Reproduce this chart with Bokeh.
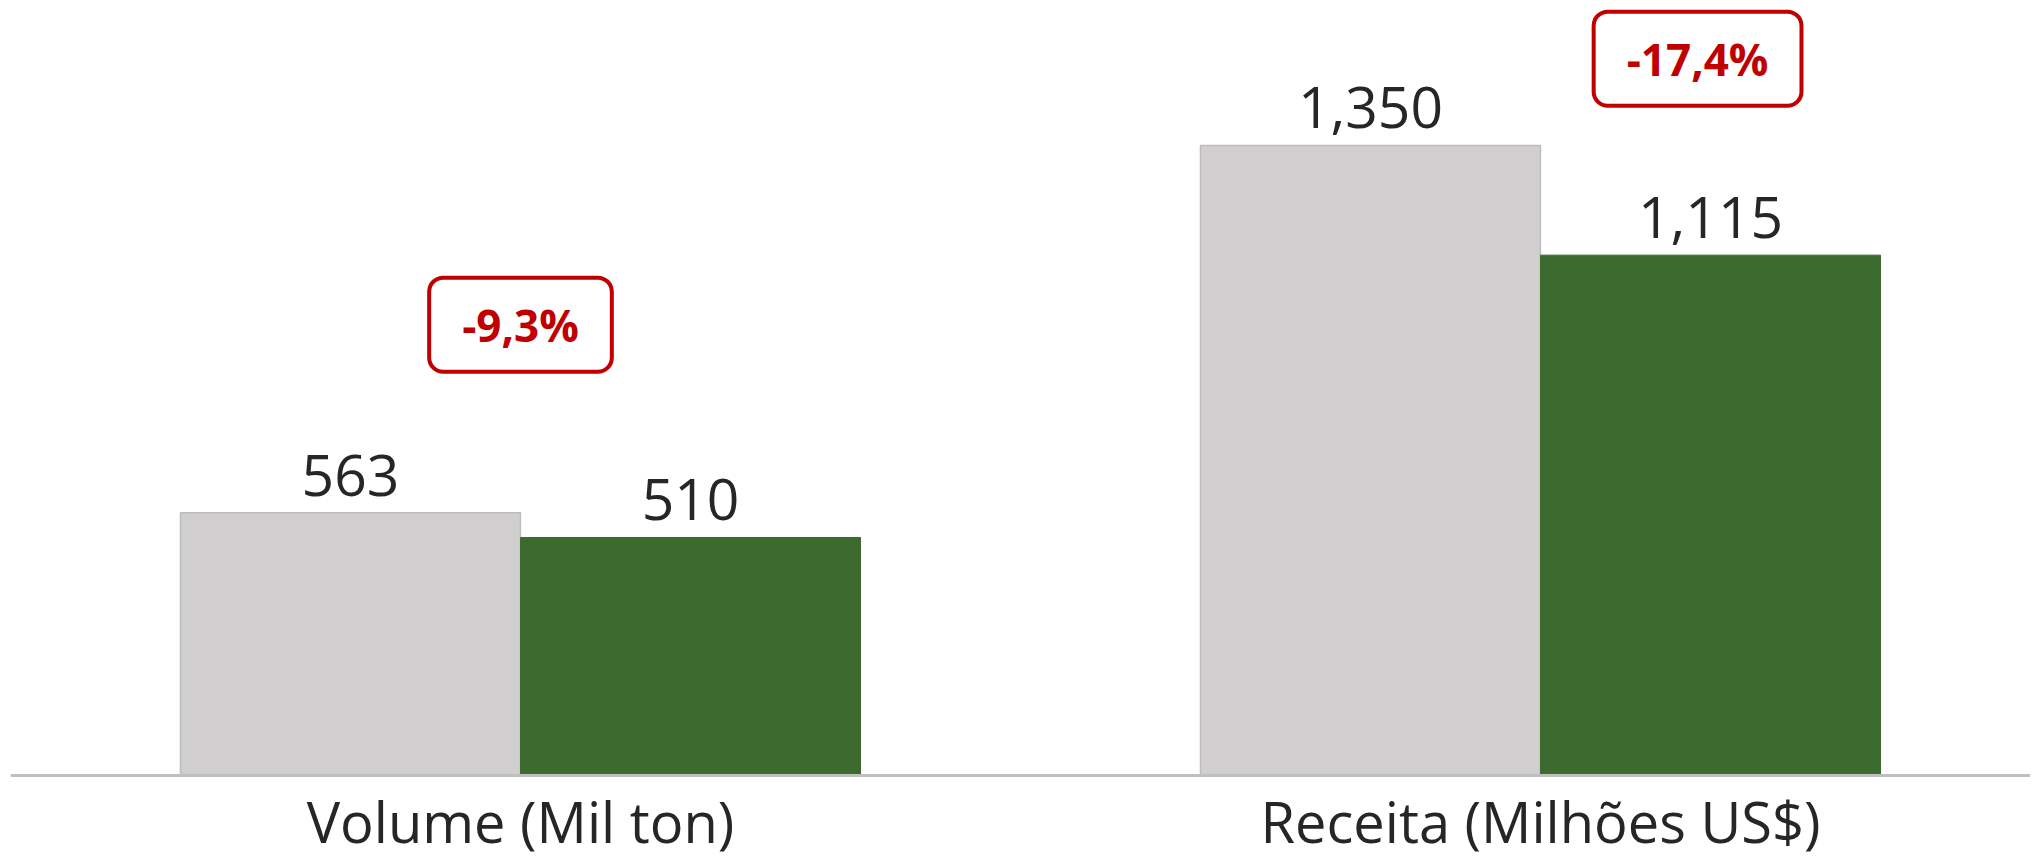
from bokeh.plotting import figure
from bokeh.models import ColumnDataSource, Range1d, LabelSet, Label, Span
from bokeh.transform import dodge
from bokeh.core.properties import value
from bokeh.embed import file_html
from bokeh.resources import INLINE

# ---- data ----
categories = ["Volume (Mil ton)", "Receita (Milhões US$)"]
prev_values = [563, 1350]
curr_values = [510, 1115]
prev_labels = ["563", "1,350"]
curr_labels = ["510", "1,115"]
changes = ["-9,3%", "-17,4%"]

# callout positions (x in category index units, y in data units)
callout_x = [0.0, 1.154]
callout_y = [966, 1536]
# category label position below the baseline (data units)
cat_label_y = -98

GRAY = "#D0CECF"
GREEN = "#3D6A2E"
RED = "#C00000"
TXT = "#262626"
FONT = "Open Sans"

xs = list(range(len(categories)))
src = ColumnDataSource(dict(x=xs, prev=prev_values, curr=curr_values,
                            prev_lbl=prev_labels, curr_lbl=curr_labels,
                            cat=categories, cy=[cat_label_y] * len(categories)))

p = figure(width=2030, height=859,
           x_range=Range1d(-0.5, 1.4804), y_range=Range1d(-180, 1643.5),
           output_backend="svg", toolbar_location=None,
           min_border_left=10, min_border_right=0, min_border_top=8, min_border_bottom=0)

p.vbar(x=dodge("x", -0.1667, range=p.x_range), top="prev", bottom=0, width=0.3333, source=src,
       fill_color=GRAY, line_color="#BDBDBD", line_width=1.5)
p.vbar(x=dodge("x", 0.1667, range=p.x_range), top="curr", bottom=0, width=0.3333, source=src,
       fill_color=GREEN, line_color=GREEN, line_width=1)

common = dict(text_align="center", text_baseline="bottom", y_offset=17,
              text_font_size="57px", text_color=TXT, text_font=value(FONT), source=src)
p.add_layout(LabelSet(x=dodge("x", -0.1667, range=p.x_range), y="prev", text="prev_lbl", **common))
p.add_layout(LabelSet(x=dodge("x", 0.1667, range=p.x_range), y="curr", text="curr_lbl", **common))

# category labels under the baseline
p.add_layout(LabelSet(x="x", y="cy", text="cat", text_align="center", text_baseline="middle",
                      text_font=value(FONT), text_font_size="56px", text_color=TXT, source=src))

for cx, cy, t in zip(callout_x, callout_y, changes):
    p.add_layout(Label(x=cx, y=cy, text=t, text_align="center", text_baseline="middle",
                       text_font=FONT, text_font_style="bold", text_font_size="44px",
                       text_color=RED, border_line_color=RED, border_line_width=4,
                       background_fill_color="white", border_radius=14,
                       padding=(33, 17)))

# axes: baseline only
p.xaxis.visible = False
p.yaxis.visible = False
p.add_layout(Span(location=0, dimension="width", line_color="#BFBFBF", line_width=3))

p.xgrid.visible = False
p.ygrid.visible = False
p.outline_line_color = None
p.background_fill_color = "white"
p.border_fill_color = "white"

open("out.html", "w").write(file_html(p, INLINE))
